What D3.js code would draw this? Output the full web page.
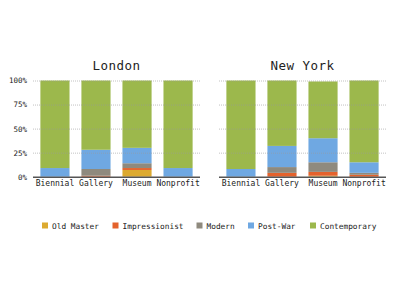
<!DOCTYPE html>
<html>
<head>
<meta charset="utf-8">
<script src="https://cdn.jsdelivr.net/npm/d3@7"></script>
<style>
  body { margin: 0; background: #fff; }
  text { font-family: "DejaVu Sans Mono", monospace; fill: #222; }
</style>
</head>
<body>
<svg id="chart" width="400" height="290"></svg>
<script>
// data, in percent
var cities = ["London", "New York"];
var venues = ["Biennial", "Gallery", "Museum", "Nonprofit"];
var periods = ["Old Master", "Impressionist", "Modern", "Post-War", "Contemporary"];
var colours = ["#dcaa30", "#e4622c", "#8f8a7e", "#6fa8e2", "#9cb84c"];

var londonOldMaster     = [0, 0, 7, 0];
var londonImpressionist = [0, 1, 2, 0];
var londonModern        = [0, 7, 5, 0];
var londonPostWar       = [9, 20, 16, 9];
var londonContemporary  = [91, 72, 70, 91];

var nyOldMaster     = [0, 0, 1, 0];
var nyImpressionist = [0, 4, 4, 2];
var nyModern        = [0, 6, 10, 2];
var nyPostWar       = [8, 22, 25, 11];
var nyContemporary  = [92, 68, 59, 85];

var yTicks = [0, 25, 50, 75, 100];

var series = {
    "London": [londonOldMaster, londonImpressionist, londonModern, londonPostWar, londonContemporary],
    "New York": [nyOldMaster, nyImpressionist, nyModern, nyPostWar, nyContemporary]
};

var svg = d3.select("#chart");

var yTop = 80.5, yBottom = 176.7;
var panels = [[33, 200], [219, 386]];

var y = d3.scaleLinear().domain([0, 100]).range([yBottom, yTop]);
var colour = d3.scaleOrdinal(periods, colours);

cities.forEach(function(city, ci) {
    var x = d3.scaleBand()
        .domain(venues)
        .range(panels[ci])
        .paddingInner(0.29)
        .paddingOuter(0.18);

    // build rows for the stack
    var rows = venues.map(function(v, vi) {
        var r = { venue: v };
        periods.forEach(function(p, pi) { r[p] = series[city][pi][vi]; });
        return r;
    });
    var stacked = d3.stack().keys(periods)(rows);

    var g = svg.append("g");

    g.append("text")
        .attr("x", (panels[ci][0] + panels[ci][1]) / 2)
        .attr("y", 70)
        .attr("text-anchor", "middle")
        .style("font-size", "12.5px")
        .style("letter-spacing", "0.5px")
        .text(city);

    g.selectAll("g.layer")
        .data(stacked)
        .join("g")
        .attr("class", "layer")
        .attr("fill", d => colour(d.key))
        .selectAll("rect")
        .data(d => d)
        .join("rect")
        .attr("x", d => x(d.data.venue))
        .attr("width", x.bandwidth())
        .attr("y", d => y(d[1]))
        .attr("height", d => y(d[0]) - y(d[1]));

    // dotted grid drawn over the bars
    g.selectAll("line.grid")
        .data(yTicks.filter(t => t > 0))
        .join("line")
        .attr("class", "grid")
        .attr("x1", panels[ci][0])
        .attr("x2", panels[ci][1])
        .attr("y1", d => y(d) + 0.5)
        .attr("y2", d => y(d) + 0.5)
        .attr("stroke", "#999")
        .attr("stroke-opacity", 0.6)
        .attr("stroke-dasharray", "1,1");

    // baseline
    g.append("line")
        .attr("x1", panels[ci][0])
        .attr("x2", panels[ci][1])
        .attr("y1", yBottom + 0.5)
        .attr("y2", yBottom + 0.5)
        .attr("stroke", "#555")
        .attr("stroke-width", 1.5);

    var xAxis = d3.axisBottom(x).tickSize(0).tickPadding(4);
    var ax = g.append("g")
        .attr("transform", `translate(0, ${yBottom})`)
        .call(xAxis);
    ax.select(".domain").remove();
    ax.selectAll("text")
        .style("font-size", "8px")
        .style("fill", "#222")
        .style("font-family", "'DejaVu Sans Mono', monospace");

    if (ci == 0) {
        var yAxis = d3.axisLeft(y).tickValues(yTicks).tickSize(0).tickPadding(6)
            .tickFormat(d => d + "%");
        var ay = g.append("g")
            .attr("transform", `translate(${panels[ci][0]}, 0)`)
            .call(yAxis);
        ay.select(".domain").remove();
        ay.selectAll("text")
            .style("font-size", "7.5px")
            .style("fill", "#222")
            .style("font-family", "'DejaVu Sans Mono', monospace");
    }
});

// legend
var legendX = [42, 112.5, 196.5, 248, 310];
var legend = svg.append("g").selectAll("g")
    .data(periods)
    .join("g")
    .attr("transform", (d, i) => `translate(${legendX[i]}, 222.5)`);

legend.append("rect")
    .attr("width", 6)
    .attr("height", 6)
    .attr("fill", d => colour(d));

legend.append("text")
    .attr("x", 10)
    .attr("y", 6)
    .style("font-size", "7.8px")
    .text(d => d);
</script>
</body>
</html>
